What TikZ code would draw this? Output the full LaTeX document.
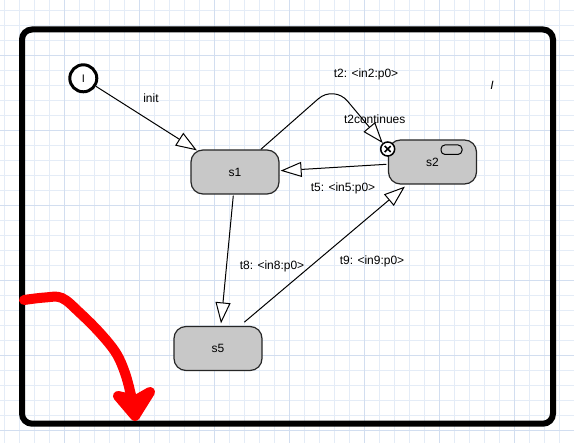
\documentclass[tikz,border=0pt]{standalone}
\usepackage{fontspec}
\setmainfont{Liberation Sans}
\usetikzlibrary{arrows.meta,calc}
\definecolor{gridminor}{RGB}{228,236,247}
\definecolor{gridmajor}{RGB}{210,222,240}
\definecolor{stategray}{RGB}{200,200,200}
\begin{document}
\begin{tikzpicture}[x=1pt,y=-1pt,
  state/.style={draw=black!85, line width=1.2pt, fill=stategray, rounded corners=12pt,
    minimum width=88pt, minimum height=44pt, inner sep=0pt, font=\fontsize{12}{14}\selectfont},
  lbl/.style={font=\fontsize{12}{14}\selectfont, inner sep=0pt},
  trans/.style={draw, line width=1pt, -{Triangle[length=21pt,width=15pt,fill=white]}},
  scribble/.style={draw=red, line width=10pt, line cap=round, line join=round},
]
\useasboundingbox (0,0) rectangle (574,443);
\fill[white] (0,0) rectangle (574,443);
% grid
\foreach \x in {4,19,...,574} \draw[gridminor, line width=1pt] (\x,0) -- (\x,443);
\foreach \y in {11,26,...,443} \draw[gridminor, line width=1pt] (0,\y) -- (574,\y);
\foreach \x in {64,139,...,574} \draw[gridmajor, line width=1pt] (\x,0) -- (\x,443);
\foreach \y in {56,131,...,443} \draw[gridmajor, line width=1pt] (0,\y) -- (574,\y);
% frame
\draw[line width=6pt, rounded corners=10pt] (22,29.5) rectangle (553,423.7);
% nodes
\node[state] (s1) at (235,172) {s1};
\node[state] (s2) at (432.5,162) {s2};
\node[state] (s5) at (218,348.5) {s5};
\node[draw, line width=1pt, fill=stategray, rounded corners=4pt, minimum width=21pt,
  minimum height=9.5pt, inner sep=0pt] (s2sub) at (451.5,149.7) {};
\node[circle, draw, line width=3pt, fill=white, minimum size=27pt, inner sep=0pt,
  font=\fontsize{11}{13}\selectfont] (ini) at (83.3,78.3) {I};
\node[circle, draw, line width=1.5pt, fill=white, minimum size=14pt, inner sep=0pt] (xc) at (387.7,149) {};
\draw[line width=1.5pt] ($(xc)+(-3,-3)$) -- ($(xc)+(3,3)$);
\draw[line width=1.5pt] ($(xc)+(-3,3)$) -- ($(xc)+(3,-3)$);
% transitions
\coordinate (t2c) at (334,85);
\draw[trans] (ini) -- ($(s1.north west)+(6.5,1)$);
\draw[trans, rounded corners=21pt] ($(s1.north)+(25.8,0)$) -- (t2c) -- (xc);
\draw[trans] ($(s2.west)+(-1.5,2.3)$) -- ($(s1.east)+(1,-1.3)$);
\draw[trans] ($(s1.south)+(-1.7,1)$) -- ($(s5.north)+(3,-2.5)$);
\draw[trans] ($(s5.north)+(26.3,-3.7)$) -- ($(s2.south west)+(17,2)$);
% labels
\node[lbl] (linit) at (151,98) {init};
\node[lbl] (lt2) at (366,74) {t2: <in2:p0>};
\node[lbl] (lt2c) at (374.7,119) {t2continues};
\node[lbl] (lt5) at (343,188) {t5: <in5:p0>};
\node[lbl] (lt8) at (272,266) {t8: <in8:p0>};
\node[lbl] (lt9) at (372,261) {t9: <in9:p0>};
\node[lbl] (mark) at (492,85) {\textit{I}};
% red scribble
\draw[scribble] plot[smooth, tension=0.6] coordinates {(24,300) (45,297.5) (62,298) (80,313) (100,333) (116,353) (125,373) (131,395) (135,413)};
\draw[scribble, fill=red] (118,396) -- (135,416) -- (150,392) -- (136,400) -- cycle;
\end{tikzpicture}
\end{document}
